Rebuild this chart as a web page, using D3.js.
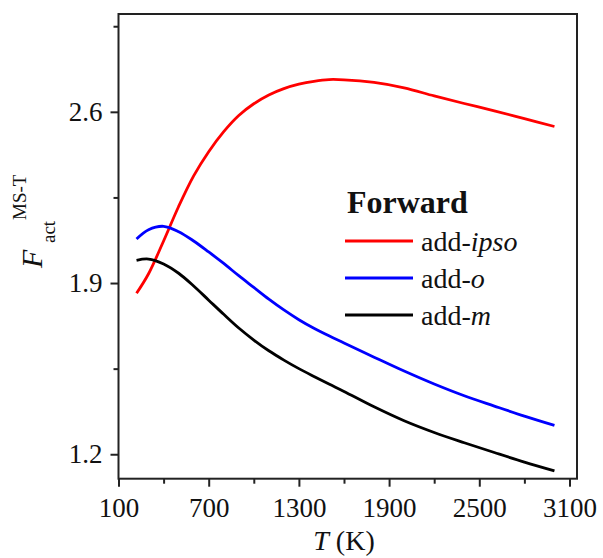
<!DOCTYPE html>
<html>
<head>
<meta charset="utf-8">
<script src="https://cdn.jsdelivr.net/npm/d3@7"></script>
<style>
  body { margin: 0; background: #fff; }
  svg text { font-family: "Liberation Serif", "Times New Roman", serif; fill: #111; }
  .axis path, .axis line { stroke: #222; stroke-width: 2; }
  .axis text { font-size: 27px; }
</style>
</head>
<body>
<div id="chart"></div>
<script>
// data
const temps = [220, 300, 400, 500, 600, 700, 800, 900, 1000, 1100, 1200, 1300, 1400, 1500, 1600, 1800, 2000, 2200, 2400, 2600, 2800, 3000];
const addIpso = [1.858, 1.938, 2.072, 2.213, 2.338, 2.437, 2.519, 2.585, 2.633, 2.669, 2.695, 2.713, 2.725, 2.732, 2.731, 2.720, 2.698, 2.665, 2.634, 2.604, 2.572, 2.540];
const addOrtho = [2.080, 2.118, 2.132, 2.110, 2.072, 2.027, 1.980, 1.930, 1.882, 1.834, 1.790, 1.750, 1.715, 1.684, 1.655, 1.597, 1.540, 1.487, 1.439, 1.397, 1.356, 1.318];
const addMeta = [1.993, 1.998, 1.978, 1.940, 1.888, 1.830, 1.772, 1.716, 1.667, 1.623, 1.585, 1.550, 1.518, 1.487, 1.457, 1.394, 1.337, 1.289, 1.247, 1.207, 1.168, 1.132];

const xMajor = [100, 700, 1300, 1900, 2500, 3100];
const xMinor = [400, 1000, 1600, 2200, 2800];
const yMajor = [1.2, 1.9, 2.6];
const yMinor = [1.55, 2.25, 2.95];

const series = [
  { name: "ipso", values: addIpso, color: "#ff0000" },
  { name: "o", values: addOrtho, color: "#0000ff" },
  { name: "m", values: addMeta, color: "#000000" }
];

// =====================================
// DIMENSIONS
// =====================================

const W = 603, H = 558;
const margin = { top: 14, right: 26, bottom: 79.3, left: 118.5 };
const width = W - margin.left - margin.right;
const height = H - margin.top - margin.bottom;

const svg = d3.select("#chart")
  .append("svg")
  .attr("width", W)
  .attr("height", H);

const g = svg.append("g")
  .attr("transform", `translate(${margin.left},${margin.top})`);

// =====================================
// SCALES
// =====================================

const x = d3.scaleLinear()
  .domain([100, 3150])
  .range([0, width]);

const y = d3.scaleLinear()
  .domain([1.1, 3.0])
  .range([height, 0]);

// =====================================
// AXES
// =====================================

// minor ticks
g.append("g")
  .attr("class", "axis")
  .attr("transform", `translate(0,${height})`)
  .call(d3.axisBottom(x).tickValues(xMinor).tickSize(5).tickFormat(""))
  .select(".domain").remove();

g.append("g")
  .attr("class", "axis")
  .call(d3.axisLeft(y).tickValues(yMinor).tickSize(5).tickFormat(""))
  .select(".domain").remove();

// major ticks
const xAxis = g.append("g")
  .attr("class", "axis")
  .attr("transform", `translate(0,${height})`)
  .call(d3.axisBottom(x).tickValues(xMajor).tickSize(8).tickSizeOuter(0).tickFormat(d3.format("d")));
xAxis.select(".domain").remove();
xAxis.selectAll("text").attr("y", 38).attr("dy", 0);

const yAxis = g.append("g")
  .attr("class", "axis")
  .call(d3.axisLeft(y).tickValues(yMajor).tickSize(8).tickSizeOuter(0).tickFormat(d3.format(".1f")));
yAxis.select(".domain").remove();
yAxis.selectAll("text").attr("x", -16).attr("dy", "0.32em");

// frame
g.append("rect")
  .attr("width", width)
  .attr("height", height)
  .attr("fill", "none")
  .attr("stroke", "#222")
  .attr("stroke-width", 2);

// =====================================
// LINES
// =====================================

const line = d3.line()
  .x((d, i) => x(temps[i]))
  .y(d => y(d))
  .curve(d3.curveCatmullRom.alpha(0.5));

g.selectAll(".series")
  .data(series)
  .enter()
  .append("path")
  .attr("class", "series")
  .attr("d", d => line(d.values))
  .attr("fill", "none")
  .attr("stroke", d => d.color)
  .attr("stroke-width", 2.8);

// =====================================
// LEGEND
// =====================================

svg.append("text")
  .attr("x", 347)
  .attr("y", 213)
  .style("font-size", "32px")
  .style("font-weight", "bold")
  .text("Forward");

const legend = svg.selectAll(".legend")
  .data(series)
  .enter()
  .append("g")
  .attr("class", "legend")
  .attr("transform", (d, i) => `translate(345,${241 + i * 37})`);

legend.append("line")
  .attr("x1", 0)
  .attr("x2", 68)
  .attr("stroke", d => d.color)
  .attr("stroke-width", 2.8);

const lt = legend.append("text")
  .attr("x", 76)
  .attr("y", 10)
  .style("font-size", "28px");
lt.append("tspan").text("add-");
lt.append("tspan").style("font-style", "italic").text(d => d.name);

// =====================================
// AXIS TITLES
// =====================================

const xt = svg.append("text")
  .attr("x", 344)
  .attr("y", 550)
  .attr("text-anchor", "middle")
  .style("font-size", "28px");
xt.append("tspan").style("font-style", "italic").text("T");
xt.append("tspan").text(" (K)");

const yt = svg.append("g")
  .attr("transform", "rotate(-90)");
yt.append("text")
  .attr("x", -268)
  .attr("y", 42)
  .style("font-size", "30px")
  .style("font-style", "italic")
  .text("F");
yt.append("text")
  .attr("x", -243)
  .attr("y", 55)
  .style("font-size", "19px")
  .text("act");
yt.append("text")
  .attr("x", -220)
  .attr("y", 26)
  .style("font-size", "19px")
  .text("MS-T");
</script>
</body>
</html>
